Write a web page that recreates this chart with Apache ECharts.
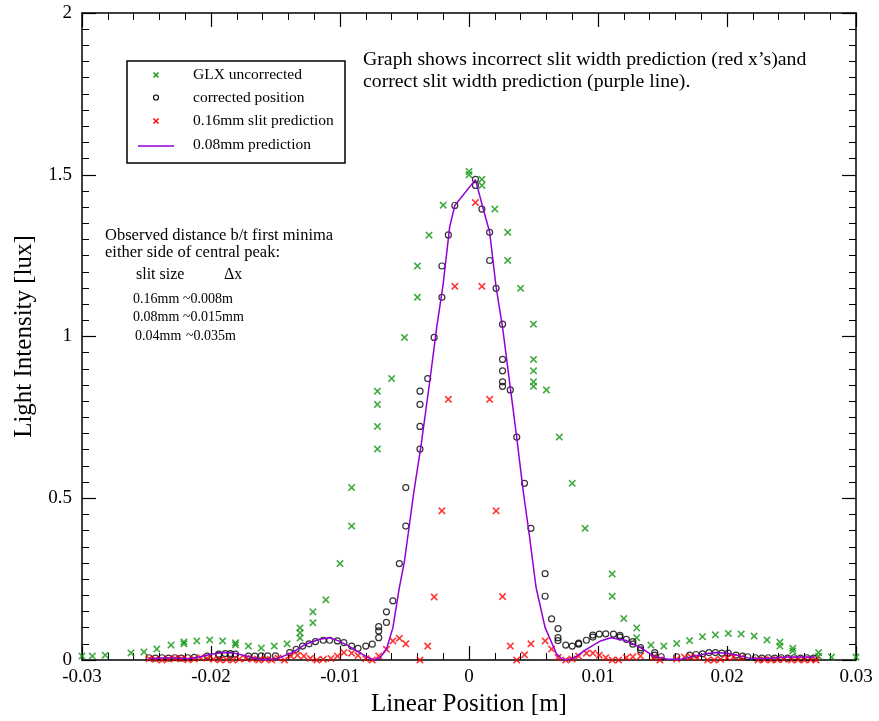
<!DOCTYPE html>
<html>
<head>
<meta charset="utf-8">
<script src="https://cdn.jsdelivr.net/npm/echarts@6/dist/echarts.min.js"></script>
<style>
  html, body { margin: 0; padding: 0; background: #fff; }
  #chart { width: 879px; height: 721px; }
</style>
</head>
<body>
<div id="chart"></div>
<script>
// GLX uncorrected  [x (m), intensity (lux)]
var glxPoints = [
  [-0.0300,0.012],[-0.0292,0.012],[-0.0282,0.015],[-0.0262,0.022],[-0.0252,0.025],
  [-0.0242,0.034],[-0.0231,0.046],[-0.0221,0.056],[-0.0221,0.050],[-0.0211,0.059],
  [-0.0201,0.062],[-0.0191,0.059],[-0.0181,0.053],[-0.0181,0.047],[-0.0171,0.043],
  [-0.0161,0.037],[-0.0151,0.043],[-0.0141,0.050],[-0.0131,0.068],[-0.0131,0.084],
  [-0.0131,0.099],[-0.0121,0.115],[-0.0121,0.149],[-0.0111,0.186],[-0.0100,0.298],
  [-0.0091,0.414],[-0.0091,0.533],[-0.0071,0.652],[-0.0071,0.722],[-0.0071,0.790],
  [-0.0071,0.831],[-0.0060,0.870],[-0.0050,0.997],[-0.0040,1.121],[-0.0040,1.218],
  [-0.0031,1.313],[-0.0020,1.406],[0.0000,1.500],[0.0000,1.510],[0.0010,1.486],
  [0.0010,1.467],[0.0020,1.394],[0.0030,1.322],[0.0030,1.235],[0.0040,1.149],
  [0.0050,1.038],[0.0050,0.929],[0.0050,0.894],[0.0050,0.860],[0.0050,0.846],
  [0.0060,0.835],[0.0070,0.689],[0.0080,0.546],[0.0090,0.407],[0.0111,0.266],
  [0.0111,0.197],[0.0120,0.128],[0.0130,0.099],[0.0130,0.069],[0.0141,0.046],
  [0.0151,0.043],[0.0161,0.051],[0.0171,0.060],[0.0181,0.072],[0.0191,0.078],
  [0.0201,0.082],[0.0211,0.080],[0.0221,0.074],[0.0231,0.062],[0.0241,0.055],
  [0.0241,0.043],[0.0251,0.036],[0.0251,0.028],[0.0271,0.023],[0.0271,0.011],
  [0.0281,0.009],[0.0300,0.009]
];

// corrected position
var correctedPoints = [
  [-0.0248,0.007],[-0.0243,0.006],[-0.0238,0.007],[-0.0233,0.006],[-0.0228,0.007],
  [-0.0223,0.006],[-0.0218,0.007],[-0.0213,0.008],[-0.0203,0.012],[-0.0194,0.018],
  [-0.0194,0.014],[-0.0189,0.020],[-0.0185,0.020],[-0.0185,0.015],[-0.0181,0.018],
  [-0.0171,0.012],[-0.0166,0.012],[-0.0161,0.013],[-0.0156,0.013],[-0.0150,0.013],
  [-0.0139,0.023],[-0.0134,0.033],[-0.0129,0.043],[-0.0124,0.050],[-0.0119,0.057],
  [-0.0113,0.061],[-0.0108,0.061],[-0.0102,0.059],[-0.0097,0.054],[-0.0091,0.043],
  [-0.0086,0.036],[-0.0080,0.043],[-0.0075,0.049],[-0.0070,0.069],[-0.0070,0.090],
  [-0.0070,0.103],[-0.0064,0.116],[-0.0064,0.149],[-0.0059,0.183],[-0.0054,0.298],
  [-0.0049,0.414],[-0.0049,0.533],[-0.0038,0.652],[-0.0038,0.722],[-0.0038,0.790],
  [-0.0038,0.831],[-0.0032,0.870],[-0.0027,0.997],[-0.0021,1.121],[-0.0021,1.218],
  [-0.0016,1.314],[-0.0011,1.405],[0.0005,1.486],[0.0005,1.467],[0.0010,1.394],
  [0.0016,1.322],[0.0016,1.235],[0.0021,1.149],[0.0026,1.038],[0.0026,0.929],
  [0.0026,0.894],[0.0026,0.860],[0.0026,0.846],[0.0032,0.835],[0.0037,0.689],
  [0.0043,0.546],[0.0048,0.407],[0.0059,0.267],[0.0059,0.197],[0.0064,0.127],
  [0.0069,0.097],[0.0069,0.069],[0.0069,0.060],[0.0075,0.046],[0.0080,0.043],
  [0.0085,0.049],[0.0085,0.052],[0.0091,0.061],[0.0096,0.071],[0.0096,0.077],
  [0.0101,0.080],[0.0106,0.081],[0.0112,0.080],[0.0117,0.076],[0.0117,0.071],
  [0.0122,0.064],[0.0127,0.057],[0.0127,0.049],[0.0133,0.038],[0.0133,0.031],
  [0.0144,0.023],[0.0144,0.015],[0.0149,0.010],[0.0161,0.010],[0.0171,0.015],
  [0.0176,0.017],[0.0181,0.019],[0.0186,0.023],[0.0191,0.023],[0.0196,0.021],
  [0.0201,0.021],[0.0207,0.015],[0.0212,0.012],[0.0216,0.010],[0.0222,0.007],
  [0.0227,0.006],[0.0232,0.007],[0.0237,0.006],[0.0242,0.007],[0.0247,0.006],
  [0.0252,0.007],[0.0257,0.006],[0.0262,0.007],[0.0267,0.006]
];

// 0.16mm slit prediction
var slit016Points = [
  [-0.0248,0.004],[-0.0243,0.002],[-0.0238,0.000],[-0.0233,0.003],[-0.0228,0.005],
  [-0.0223,0.004],[-0.0218,0.001],[-0.0213,0.003],[-0.0208,0.007],[-0.0203,0.006],
  [-0.0198,0.002],[-0.0193,0.000],[-0.0188,0.001],[-0.0183,0.000],[-0.0178,0.003],
  [-0.0173,0.005],[-0.0168,0.003],[-0.0163,0.000],[-0.0158,0.002],[-0.0153,0.000],
  [-0.0148,0.006],[-0.0143,0.000],[-0.0138,0.012],[-0.0133,0.015],[-0.0128,0.012],
  [-0.0123,0.005],[-0.0118,0.000],[-0.0113,0.002],[-0.0107,0.005],[-0.0102,0.012],
  [-0.0097,0.023],[-0.0091,0.021],[-0.0086,0.014],[-0.0080,0.004],[-0.0075,0.000],
  [-0.0070,0.012],[-0.0064,0.033],[-0.0059,0.059],[-0.0054,0.067],[-0.0049,0.050],
  [-0.0038,0.000],[-0.0032,0.043],[-0.0027,0.195],[-0.0021,0.461],[-0.0016,0.806],
  [-0.0011,1.155],[0.0005,1.414],[0.0010,1.155],[0.0016,0.806],[0.0021,0.461],
  [0.0026,0.196],[0.0032,0.043],[0.0037,0.000],[0.0043,0.016],[0.0048,0.050],
  [0.0059,0.059],[0.0064,0.034],[0.0069,0.008],[0.0075,0.000],[0.0080,0.003],
  [0.0085,0.012],[0.0091,0.021],[0.0096,0.021],[0.0101,0.015],[0.0106,0.007],
  [0.0111,0.000],[0.0116,0.000],[0.0122,0.007],[0.0127,0.010],[0.0133,0.012],
  [0.0143,0.007],[0.0148,0.000],[0.0161,0.003],[0.0167,0.009],[0.0172,0.010],
  [0.0177,0.007],[0.0185,0.000],[0.0190,0.000],[0.0195,0.002],[0.0200,0.007],
  [0.0205,0.009],[0.0211,0.007],[0.0224,0.000],[0.0229,0.001],[0.0234,0.000],
  [0.0239,0.001],[0.0244,0.002],[0.0250,0.000],[0.0255,0.001],[0.0260,0.000],
  [0.0265,0.001],[0.0269,0.000]
];

// 0.08mm prediction (line)
var pred008Points = [
  [-0.0248,0.004],[-0.0238,0.006],[-0.0228,0.006],[-0.0218,0.004],[-0.0208,0.010],
  [-0.0200,0.018],[-0.0191,0.023],[-0.0183,0.022],[-0.0175,0.015],[-0.0168,0.007],
  [-0.0158,0.001],[-0.0148,0.005],[-0.0137,0.023],[-0.0127,0.048],[-0.0116,0.064],
  [-0.0108,0.069],[-0.0101,0.059],[-0.0093,0.043],[-0.0085,0.023],[-0.0077,0.005],
  [-0.0073,0.000],[-0.0069,0.007],[-0.0064,0.033],[-0.0059,0.100],[-0.0054,0.224],
  [-0.0050,0.306],[-0.0043,0.513],[-0.0037,0.668],[-0.0030,0.874],[-0.0025,1.029],
  [-0.0020,1.163],[-0.0015,1.338],[-0.0011,1.405],[0.0005,1.485],[0.0011,1.395],
  [0.0016,1.323],[0.0021,1.153],[0.0026,1.029],[0.0032,0.843],[0.0037,0.688],
  [0.0042,0.523],[0.0047,0.379],[0.0052,0.224],[0.0059,0.100],[0.0068,0.018],
  [0.0073,0.000],[0.0081,0.005],[0.0091,0.033],[0.0102,0.059],[0.0110,0.069],
  [0.0122,0.060],[0.0133,0.038],[0.0143,0.012],[0.0154,0.002],[0.0164,0.002],
  [0.0174,0.012],[0.0185,0.020],[0.0191,0.023],[0.0200,0.021],[0.0211,0.012],
  [0.0218,0.005],[0.0231,0.005],[0.0247,0.009],[0.0268,0.009]
];

var xTicks = { min: -0.03, max: 0.03, step: 0.01 };
var yTicks = { min: 0, max: 2, step: 0.5 };

var GREEN = '#0f960f', RED = '#ff0000', VIOLET = '#9400d3';
var FONT = '"Liberation Serif", "DejaVu Serif", serif';
var crossPath = 'path://M0,1.5L1.5,0L5,3.5L8.5,0L10,1.5L6.5,5L10,8.5L8.5,10L5,6.5L1.5,10L0,8.5L3.5,5Z';

var chart = echarts.init(document.getElementById('chart'));

function xAxisCfg(pos, labels) {
  return {
    type: 'value', position: pos,
    min: xTicks.min, max: xTicks.max, interval: xTicks.step,
    name: labels ? 'Linear Position [m]' : '',
    nameLocation: 'middle', nameGap: 31,
    nameTextStyle: { fontFamily: FONT, fontSize: 25, color: '#000' },
    axisLine: { show: true, onZero: false, lineStyle: { color: '#000', width: 1.5 } },
    axisTick: { show: true, inside: true, length: 14, lineStyle: { color: '#000', width: 1.2 } },
    minorTick: { show: true, splitNumber: 5, length: 7, lineStyle: { color: '#000', width: 1 } },
    splitLine: { show: false },
    axisLabel: {
      show: labels, margin: 8, fontFamily: FONT, fontSize: 19, color: '#000',
      formatter: function (v) { return String(+v.toFixed(2)); }
    }
  };
}
function yAxisCfg(pos, labels) {
  return {
    type: 'value', position: pos,
    min: yTicks.min, max: yTicks.max, interval: yTicks.step,
    name: labels ? 'Light Intensity [lux]' : '',
    nameLocation: 'middle', nameGap: 44,
    nameTextStyle: { fontFamily: FONT, fontSize: 25, color: '#000' },
    axisLine: { show: true, onZero: false, lineStyle: { color: '#000', width: 1.5 } },
    axisTick: { show: true, inside: true, length: 14, lineStyle: { color: '#000', width: 1.2 } },
    minorTick: { show: true, splitNumber: 10, length: 7, lineStyle: { color: '#000', width: 1 } },
    splitLine: { show: false },
    axisLabel: {
      show: labels, margin: 10, fontFamily: FONT, fontSize: 19, color: '#000',
      formatter: function (v) { return String(+v.toFixed(1)); }
    }
  };
}

function txt(x, y, s, size) {
  return {
    type: 'text', x: x, y: y, z: 100,
    style: { text: s, font: (size || 15) + 'px ' + FONT, fill: '#000', align: 'left', verticalAlign: 'middle' }
  };
}

var legendX = 156;
var graphics = [
  { type: 'rect', z: 90, shape: { x: 127, y: 61, width: 218, height: 102 },
    style: { fill: '#fff', stroke: '#000', lineWidth: 1.5 } },
  { type: 'line', z: 100, shape: { x1: legendX - 2.5, y1: 72.5, x2: legendX + 2.5, y2: 77.5 }, style: { stroke: GREEN, lineWidth: 1.4 } },
  { type: 'line', z: 100, shape: { x1: legendX + 2.5, y1: 72.5, x2: legendX - 2.5, y2: 77.5 }, style: { stroke: GREEN, lineWidth: 1.4 } },
  { type: 'circle', z: 100, shape: { cx: legendX, cy: 97.5, r: 2.5 }, style: { fill: 'none', stroke: '#000', lineWidth: 1.2 } },
  { type: 'line', z: 100, shape: { x1: legendX - 2.5, y1: 118.5, x2: legendX + 2.5, y2: 123.5 }, style: { stroke: RED, lineWidth: 1.4 } },
  { type: 'line', z: 100, shape: { x1: legendX + 2.5, y1: 118.5, x2: legendX - 2.5, y2: 123.5 }, style: { stroke: RED, lineWidth: 1.4 } },
  { type: 'line', z: 100, shape: { x1: 138, y1: 146, x2: 174, y2: 146 }, style: { stroke: VIOLET, lineWidth: 1.5 } },
  txt(193, 75, 'GLX uncorrected', 15.5),
  txt(193, 98, 'corrected position', 15.5),
  txt(193, 121, '0.16mm slit prediction', 15.5),
  txt(193, 145, '0.08mm prediction', 15.5),

  txt(363, 60, 'Graph shows incorrect slit width prediction (red x\u2019s)and', 19.8),
  txt(363, 82, 'correct slit width prediction (purple line).', 19.8),

  txt(105, 236, 'Observed distance b/t first minima', 16.5),
  txt(105, 253, 'either side of central peak:', 16.5),
  txt(136, 275, 'slit size', 16),
  txt(224, 275, '\u0394x', 16),
  txt(133, 299, '0.16mm', 14),
  txt(183, 299, '~0.008m', 14),
  txt(133, 317, '0.08mm', 14),
  txt(183, 317, '~0.015mm', 14),
  txt(135, 336, '0.04mm', 14),
  txt(186, 336, '~0.035m', 14)
];

var option = {
  backgroundColor: '#fff',
  animation: false,
  grid: { left: 82, right: 23, top: 13, bottom: 61, containLabel: false, outerBoundsMode: 'none' },
  xAxis: [xAxisCfg('bottom', true), xAxisCfg('top', false)],
  yAxis: [yAxisCfg('left', true), yAxisCfg('right', false)],
  series: [
    {
      name: 'GLX uncorrected', type: 'scatter', data: glxPoints,
      symbol: crossPath, symbolSize: 7.5,
      itemStyle: { color: GREEN }, z: 2
    },
    {
      name: 'corrected position', type: 'scatter', data: correctedPoints,
      symbol: 'circle', symbolSize: 6,
      itemStyle: { color: 'rgba(0,0,0,0)', borderColor: '#000', borderWidth: 1.2 }, z: 3
    },
    {
      name: '0.16mm slit prediction', type: 'scatter', data: slit016Points,
      symbol: crossPath, symbolSize: 7.5,
      itemStyle: { color: RED }, z: 4
    },
    {
      name: '0.08mm prediction', type: 'line', data: pred008Points,
      showSymbol: false, symbol: 'none', smooth: false,
      lineStyle: { color: VIOLET, width: 1.5 }, z: 5
    }
  ],
  graphic: graphics
};

chart.setOption(option);
</script>
</body>
</html>
